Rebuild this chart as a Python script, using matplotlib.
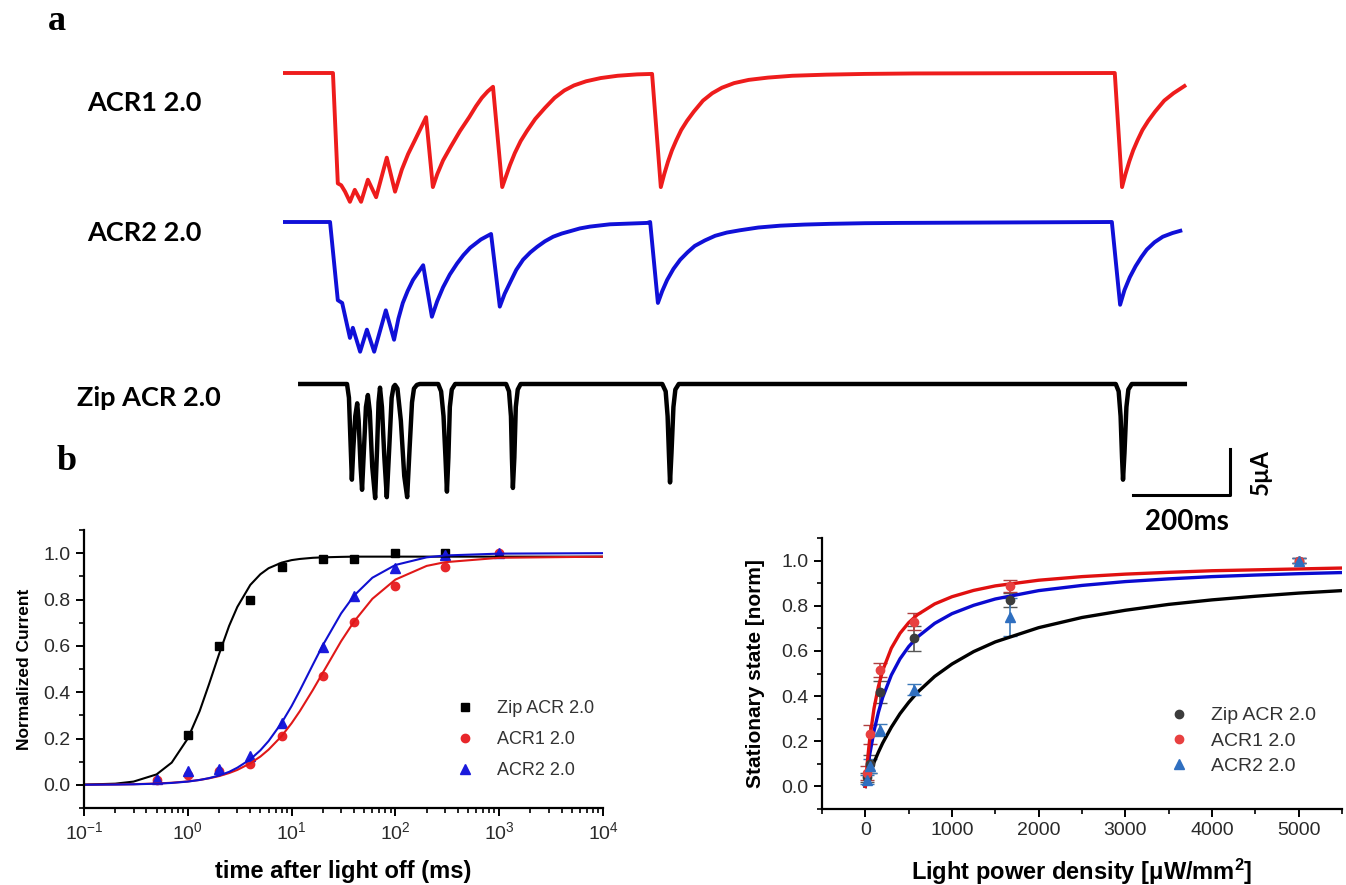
import numpy as np
import matplotlib

matplotlib.use('Agg')
import matplotlib.pyplot as plt
from matplotlib.lines import Line2D
from matplotlib.ticker import MultipleLocator, LogLocator, NullFormatter, FormatStrFormatter

plt.rcParams['font.family'] = ['Liberation Sans', 'DejaVu Sans']
plt.rcParams['mathtext.fontset'] = 'custom'
plt.rcParams['mathtext.rm'] = 'Liberation Sans'
plt.rcParams['mathtext.bf'] = 'Liberation Sans:bold'
plt.rcParams['mathtext.default'] = 'regular'

# ---- panel a: photocurrent traces (time in ms, current in uA)
acr1_t = [0, 103, 113, 120, 128, 138, 148, 161, 175, 192, 214, 231, 238, 245, 258, 272, 284,
          295, 309, 318, 330, 346, 365, 384, 398, 410, 422, 433, 452, 460, 468, 478, 490,
          503, 520, 540, 560, 580, 600, 625, 655, 690, 730, 761, 779, 786, 794, 802, 811,
          821, 833, 847, 866, 885, 905, 930, 960, 1000, 1050, 1120, 1200, 1300, 1715, 1730,
          1737, 1745, 1753, 1762, 1772, 1784, 1798, 1817, 1836, 1862]
acr1_i = [0, 0, -12.0, -12.2, -12.9, -14.0, -12.7, -14.0, -11.6, -13.5, -9.2, -12.9, -11.7,
          -10.5, -8.8, -7.3, -6.0, -4.8, -12.4, -11.0, -9.5, -8.0, -6.3, -4.8, -3.6, -2.7,
          -2.0, -1.5, -12.4, -11.2, -10.0, -8.7, -7.4, -6.3, -5.0, -3.8, -2.7, -1.9, -1.35,
          -0.9, -0.55, -0.3, -0.15, -0.1, -12.4, -11.0, -9.6, -8.4, -7.3, -6.2, -5.2, -4.2,
          -3.0, -2.2, -1.6, -1.1, -0.75, -0.5, -0.3, -0.18, -0.1, -0.05, 0, -12.4, -11.0,
          -9.6, -8.4, -7.3, -6.2, -5.2, -4.2, -3.0, -2.2, -1.3]

acr2_t = [0, 97, 113, 122, 138, 144, 159, 173, 188, 212, 229, 238, 247, 257, 268, 289, 307,
          318, 330, 344, 359, 372, 386, 408, 429, 447, 457, 468, 481, 495, 510, 524, 540, 557,
          575, 592, 612, 633, 674, 751, 757, 773, 782, 792, 805, 819, 834, 849, 870, 891, 915,
          942, 980, 1025, 1075, 1128, 1200, 1272, 1709, 1726, 1735, 1746, 1758, 1770, 1781,
          1797, 1814, 1834, 1854]
acr2_i = [0, 0, -8.5, -8.8, -12.6, -11.5, -14.1, -11.7, -14.1, -9.6, -12.8, -10.5, -8.8,
          -7.5, -6.3, -4.7, -10.3, -8.6, -7.1, -5.7, -4.5, -3.6, -2.8, -1.9, -1.3, -9.2, -7.8,
          -6.6, -5.2, -4.1, -3.3, -2.7, -2.1, -1.6, -1.25, -1.0, -0.7, -0.5, -0.25, -0.1, 0,
          -8.8, -7.5, -6.3, -5.1, -4.1, -3.3, -2.6, -2.0, -1.5, -1.15, -0.9, -0.6, -0.4,
          -0.28, -0.2, -0.13, -0.1, 0, -9.0, -7.4, -6.0, -4.8, -3.8, -3.0, -2.2, -1.6, -1.2,
          -0.9]

zip_t = [31, 132, 136, 139, 142, 145, 149, 153, 156, 160, 163, 167, 171, 175, 179, 184, 190,
         194, 197, 200, 204, 209, 214, 219, 224, 228, 231, 236, 243, 250, 256, 261, 266, 270,
         276, 282, 320, 326, 331, 335, 338, 341, 344, 348, 355, 460, 466, 470, 472, 474, 477,
         480, 484, 490, 782, 789, 793, 796, 798, 801, 805, 809, 816, 1717, 1723, 1727, 1730,
         1732, 1735, 1739, 1743, 1750, 1864]
zip_i = [0, 0, -1.5, -6, -10.4, -7, -3.5, -2.1, -4, -9, -11.5, -7, -2.5, -1.2, -3, -9, -12.4,
         -7, -2, -0.4, -2.5, -8, -12.3, -7, -1.5, -0.3, -0.1, -0.5, -4, -10, -12.3, -7, -2,
         -0.5, -0.1, 0, 0, -0.8, -3.5, -8, -11.7, -8, -2.5, -0.6, 0, 0, -0.8, -3.5, -8, -11.3,
         -8, -2.5, -0.6, 0, 0, -0.8, -3.5, -8, -10.7, -7.5, -2.5, -0.6, 0, 0, -0.8, -3.5, -8,
         -10.4, -7.5, -2.5, -0.6, 0, 0]

trace_names = ['ACR1 2.0', 'ACR2 2.0', 'Zip ACR 2.0']
scale_ms = 200
scale_ua = 5

# ---- panel b left: off kinetics
off_t = [0.5, 1, 2, 4, 8, 20, 40, 100, 300, 1000]
zip_off_t = [1, 2, 4, 8, 20, 40, 100, 300]
zip_off = [0.213, 0.60, 0.80, 0.94, 0.973, 0.973, 1.0, 1.0]
acr1_off = [0.02, 0.042, 0.06, 0.09, 0.21, 0.47, 0.705, 0.857, 0.94, 1.0]
acr2_off = [0.024, 0.06, 0.07, 0.125, 0.267, 0.597, 0.817, 0.937, 0.99, 1.0]

fit_t = [0.1, 0.2, 0.3, 0.5, 0.7, 1, 1.3, 1.6, 2, 2.5, 3, 4, 5, 6, 8, 10, 12, 16, 20, 30,
         40, 60, 100, 200, 300, 1000, 10000]
fit_zip = [0.001, 0.005, 0.014, 0.045, 0.096, 0.20, 0.318, 0.434, 0.564, 0.686, 0.768,
           0.863, 0.909, 0.935, 0.959, 0.970, 0.975, 0.980, 0.982, 0.984, 0.985, 0.985,
           0.985, 0.985, 0.985, 0.985, 0.985]
fit_acr1 = [0.0006, 0.0016, 0.0028, 0.0057, 0.0091, 0.0148, 0.0211, 0.028, 0.0377, 0.0508,
            0.0644, 0.093, 0.122, 0.152, 0.210, 0.266, 0.318, 0.409, 0.484, 0.620, 0.705,
            0.803, 0.886, 0.945, 0.961, 0.980, 0.985]
fit_acr2 = [0.0004, 0.0012, 0.0022, 0.0049, 0.0082, 0.014, 0.021, 0.029, 0.040, 0.056,
            0.074, 0.110, 0.149, 0.189, 0.267, 0.340, 0.407, 0.518, 0.603, 0.740, 0.817,
            0.894, 0.949, 0.982, 0.990, 0.998, 1.0]

# ---- panel b right: stationary state vs light power density
pd_x = [17, 56, 167, 556, 1667, 5000]
zip_ss = [0.04, 0.10, 0.418, 0.655, 0.825, 1.0]
zip_err = [0.02, 0.04, 0.05, 0.055, 0.03, 0.01]
acr1_ss = [0.06, 0.23, 0.515, 0.729, 0.888, 1.0]
acr1_err = [0.03, 0.04, 0.03, 0.037, 0.028, 0.01]
acr2_ss = [0.03, 0.09, 0.25, 0.428, 0.751, 1.0]
acr2_err = [0.02, 0.03, 0.025, 0.025, 0.085, 0.01]

fit_pd = [0, 25, 50, 100, 150, 200, 300, 400, 500, 600, 800, 1000, 1250, 1500, 2000, 2500,
          3000, 3500, 4000, 4500, 5000, 5500]
fit_ss_acr1 = [0, 0.116, 0.208, 0.345, 0.441, 0.513, 0.612, 0.678, 0.725, 0.760, 0.808,
               0.840, 0.868, 0.888, 0.913, 0.929, 0.940, 0.948, 0.955, 0.959, 0.963, 0.967]
fit_ss_acr2 = [0, 0.075, 0.140, 0.245, 0.327, 0.394, 0.493, 0.565, 0.619, 0.661, 0.722,
               0.765, 0.802, 0.830, 0.867, 0.890, 0.907, 0.919, 0.929, 0.936, 0.942, 0.947]
fit_ss_zip = [0, 0.029, 0.056, 0.106, 0.151, 0.192, 0.262, 0.322, 0.372, 0.416, 0.487,
              0.542, 0.597, 0.640, 0.703, 0.748, 0.780, 0.806, 0.826, 0.842, 0.856, 0.867]

W, H = 1346, 885
fig = plt.figure(figsize=(W / 100, H / 100), dpi=100)


def px_axes(x0, y0, x1, y1):
    return fig.add_axes([x0 / W, 1 - y1 / H, (x1 - x0) / W, (y1 - y0) / H])


# ---------------- panel a
ax_a = px_axes(270, 50, 1290, 520)
ax_a.set_axis_off()
ax_a.patch.set_alpha(0)
px_per_ms = 0.485
px_per_ua = 9.2
ax_a.set_xlim(-13 / px_per_ms, 1007 / px_per_ms)
ax_a.set_ylim(-447 / px_per_ua, 23 / px_per_ua)

offsets = [0, -149 / px_per_ua, -311 / px_per_ua]
colors_a = ['#ee1c1c', '#1010d8', 'black']
for (t, i), off, c, lw in zip([(acr1_t, acr1_i), (acr2_t, acr2_i), (zip_t, zip_i)],
                              offsets, colors_a, [2.8, 2.8, 3.2]):
    ax_a.plot(t, np.array(i) + off, color=c, lw=lw, solid_joinstyle='round',
              solid_capstyle='butt')

# scale bar
sb_t0 = 1753
sb_i0 = -422 / px_per_ua
ax_a.plot([sb_t0, sb_t0 + scale_ms, sb_t0 + scale_ms],
          [sb_i0, sb_i0, sb_i0 + scale_ua], color='black', lw=2.2)
ax_a.text(sb_t0 + scale_ms / 2 + 10, sb_i0 - 2.9, f'{scale_ms}ms', ha='center', va='center',
          fontsize=20, fontweight='bold', family='Lato')
ax_a.text(sb_t0 + scale_ms + 62, sb_i0 + scale_ua / 2, '5µA', ha='center', va='center',
          rotation=90, fontsize=17, fontweight='bold', family='Lato')

label_y = [103, 233, 398]
label_x = [87, 87, 77]
for name, lx, ly in zip(trace_names, label_x, label_y):
    fig.text(lx / W, 1 - ly / H, name, ha='left', va='center', fontsize=19.5,
             fontweight='bold', family='Lato')

fig.text(48 / W, 1 - 22 / H, 'a', fontsize=26, fontweight='bold', family='Liberation Serif',
         va='center', ha='left')
fig.text(57 / W, 1 - 462 / H, 'b', fontsize=26, fontweight='bold', family='Liberation Serif',
         va='center', ha='left')


def style_axes(ax):
    for s in ['top', 'right']:
        ax.spines[s].set_visible(False)
    for s in ['left', 'bottom']:
        ax.spines[s].set_linewidth(1.6)
    ax.tick_params(which='major', direction='out', length=6, width=1.4, labelsize=14,
                   labelcolor='#2a2a2a')
    ax.tick_params(which='minor', direction='out', length=3.5, width=1.2)
    ax.patch.set_alpha(0)


# ---------------- panel b left
ax_l = px_axes(84, 530, 603, 808)
style_axes(ax_l)
ax_l.set_xscale('log')
ax_l.set_xlim(0.1, 1e4)
ax_l.set_ylim(-0.1, 1.1)
ax_l.yaxis.set_major_locator(MultipleLocator(0.2))
ax_l.yaxis.set_minor_locator(MultipleLocator(0.1))
ax_l.yaxis.set_major_formatter(FormatStrFormatter('%.1f'))
ax_l.xaxis.set_major_locator(LogLocator(base=10, numticks=10))
ax_l.xaxis.set_minor_locator(LogLocator(base=10, subs=np.arange(2, 10), numticks=10))
ax_l.xaxis.set_minor_formatter(NullFormatter())

ax_l.plot(zip_off_t, zip_off, 's', color='black', ms=6, label='Zip ACR 2.0')
ax_l.plot(off_t, acr1_off, 'o', color='#e8262a', ms=6, label='ACR1 2.0')
ax_l.plot(off_t, acr2_off, '^', color='#1a1adc', ms=7, label='ACR2 2.0')
ax_l.plot(fit_t, fit_zip, color='black', lw=1.5)
ax_l.plot(fit_t, fit_acr1, color='#e01818', lw=1.5)
ax_l.plot(fit_t, fit_acr2, color='#1010d0', lw=1.5)
ax_l.set_xlabel('time after light off (ms)', fontsize=17, fontweight='bold', labelpad=12)
ax_l.set_ylabel('Normalized Current', fontsize=12.5, fontweight='bold', labelpad=8)
leg = ax_l.legend(loc='upper left', bbox_to_anchor=(447 / W, 1 - 691 / H),
                  bbox_transform=fig.transFigure, frameon=False, fontsize=13,
                  handlelength=1.0, handletextpad=1.28, labelspacing=0.77, borderpad=0)
for tx in leg.get_texts():
    tx.set_color('#333333')

# ---------------- panel b right
ax_r = px_axes(822, 538, 1342, 809)
style_axes(ax_r)
ax_r.set_xlim(-500, 5500)
ax_r.set_ylim(-0.1, 1.1)
ax_r.xaxis.set_major_locator(MultipleLocator(1000))
ax_r.xaxis.set_minor_locator(MultipleLocator(500))
ax_r.yaxis.set_major_locator(MultipleLocator(0.2))
ax_r.yaxis.set_minor_locator(MultipleLocator(0.1))
ax_r.yaxis.set_major_formatter(FormatStrFormatter('%.1f'))

series_r = [(zip_ss, zip_err, 'o', '#3c3c3c', '#555555', 6, 'Zip ACR 2.0'),
            (acr1_ss, acr1_err, 'o', '#e84040', '#b04040', 6, 'ACR1 2.0'),
            (acr2_ss, acr2_err, '^', '#2f6fc0', '#3a78b8', 7, 'ACR2 2.0')]
handles = []
for ys, es, mk, mc, ec, ms, name in series_r:
    ax_r.errorbar(pd_x, ys, yerr=es, fmt=mk, color=mc, ms=ms, ecolor=ec, elinewidth=1.2,
                  capsize=5)
    handles.append(Line2D([], [], ls='none', marker=mk, color=mc, ms=ms, label=name))
ax_r.plot(fit_pd, fit_ss_zip, color='black', lw=2.4)
ax_r.plot(fit_pd, fit_ss_acr2, color='#0a0ad0', lw=2.4)
ax_r.plot(fit_pd, fit_ss_acr1, color='#e01010', lw=2.4)
ax_r.set_xlabel('Light power density [μW/mm$^{\\mathbf{2}}$]', fontsize=17, fontweight='bold',
                labelpad=13)
ax_r.set_ylabel('Stationary state [norm]', fontsize=15, fontweight='bold', labelpad=12)
leg = ax_r.legend(handles=handles, loc='upper left', bbox_to_anchor=(1160 / W, 1 - 697 / H),
                  bbox_transform=fig.transFigure, frameon=False, fontsize=14,
                  handlelength=1.0, handletextpad=1.1, labelspacing=0.4, borderpad=0)
for tx in leg.get_texts():
    tx.set_color('#333333')

fig.savefig('out.png', dpi=100)
